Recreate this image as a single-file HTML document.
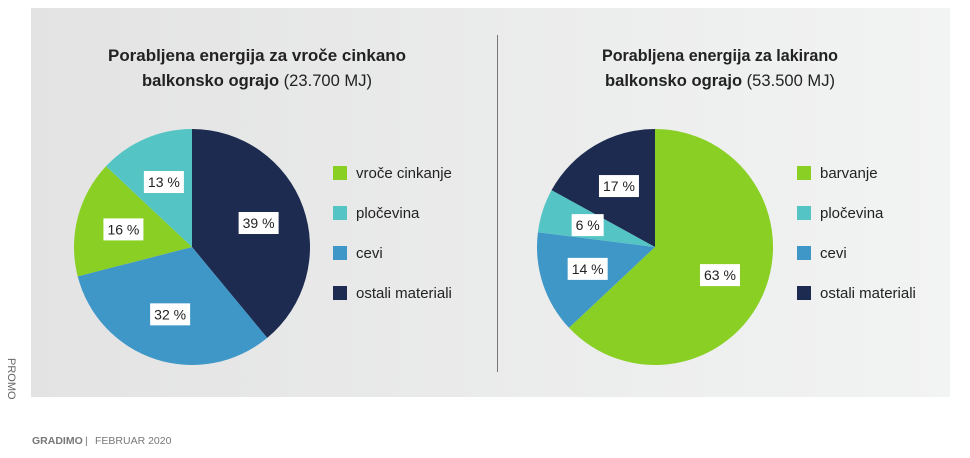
<!DOCTYPE html>
<html><head><meta charset="utf-8"><style>
html,body{margin:0;padding:0;background:#fff;width:970px;height:458px;overflow:hidden}
svg{display:block;font-family:"Liberation Sans",sans-serif}
</style></head><body>
<svg id="chart" width="970" height="458" viewBox="0 0 970 458">
<defs><linearGradient id="bg" x1="0" x2="1" y1="0" y2="0"><stop offset="0" stop-color="#e3e3e3"/><stop offset="1" stop-color="#f2f3f3"/></linearGradient></defs>
<rect x="31" y="8" width="919" height="389" fill="url(#bg)"/>
<line x1="497.5" y1="35" x2="497.5" y2="372" stroke="#777" stroke-width="1"/>
<g font-size="17" fill="#222" text-anchor="middle">
<text x="257" y="61" font-weight="bold" textLength="298" lengthAdjust="spacingAndGlyphs">Porabljena energija za vroče cinkano</text>
<text x="257" y="86" textLength="230" lengthAdjust="spacingAndGlyphs"><tspan font-weight="bold">balkonsko ograjo</tspan> (23.700 MJ)</text>
</g>
<g font-size="17" fill="#222" text-anchor="middle">
<text x="720" y="61" font-weight="bold" textLength="236" lengthAdjust="spacingAndGlyphs">Porabljena energija za lakirano</text>
<text x="720" y="86" textLength="230" lengthAdjust="spacingAndGlyphs"><tspan font-weight="bold">balkonsko ograjo</tspan> (53.500 MJ)</text>
</g>
<g id="left"></g><g id="right"></g>
<text x="8" y="358" font-size="11" fill="#666" transform="rotate(90 8 358)">PROMO</text>
<text x="32" y="444" font-size="10.5" fill="#777"><tspan font-weight="bold">GRADIMO</tspan><tspan x="85">|</tspan><tspan x="95">FEBRUAR 2020</tspan></text>
</svg>
<script>
const leftCategories=["vroče cinkanje","pločevina","cevi","ostali materiali"];
const leftValues=[16,13,32,39];
const leftOrder=[3,2,0,1];
const rightCategories=["barvanje","pločevina","cevi","ostali materiali"];
const rightValues=[63,6,14,17];
const rightOrder=[0,2,1,3];
const colors=["#89cf24","#54c5c4","#3f97c8","#1c2b4f"];
const NS="http://www.w3.org/2000/svg";
function mk(t,a){const e=document.createElementNS(NS,t);for(const k in a)e.setAttribute(k,a[k]);return e;}
function pie(gid,cats,vals,order,cx,cy,r,lx){
  const g=document.getElementById(gid);
  const total=vals.reduce((a,b)=>a+b,0);
  let a0=0;
  const labels=[];
  order.forEach(i=>{
    const a1=a0+vals[i]/total*2*Math.PI;
    const p=(a)=>[cx+r*Math.sin(a),cy-r*Math.cos(a)];
    const [x0,y0]=p(a0),[x1,y1]=p(a1);
    const path=mk("path",{d:`M${cx},${cy}L${x0},${y0}A${r},${r} 0 ${a1-a0>Math.PI?1:0} 1 ${x1},${y1}Z`,fill:colors[i]});
    
    
    g.appendChild(path);
    const m=(a0+a1)/2, lr=r*0.6;
    labels.push([cx+lr*Math.sin(m),cy-lr*Math.cos(m),vals[i]]);
    a0=a1;
  });
  labels.forEach(([x,y,v])=>{
    const t=v+" %";const w=t.length*8+8;
    const b=mk("rect",{x:x-w/2,y:y-11,width:w,height:22,fill:"#fff"});
    
    
    g.appendChild(b);
    const tx=mk("text",{x:x,y:y+5,"font-size":14,"text-anchor":"middle",fill:"#222"});
    
    
    tx.textContent=t;g.appendChild(tx);
  });
  cats.forEach((c,k)=>{
    const y=173+k*40;
    const s=mk("rect",{x:lx,y:y-7,width:14,height:14,fill:colors[k]});
    
    
    g.appendChild(s);
    const t=mk("text",{x:lx+23,y:y+5,"font-size":15,fill:"#222"});
    
    
    t.textContent=c;g.appendChild(t);
  });
}
pie("left",leftCategories,leftValues,leftOrder,192,247,118,333);
pie("right",rightCategories,rightValues,rightOrder,655,247,118,797);
</script>
</body></html>
